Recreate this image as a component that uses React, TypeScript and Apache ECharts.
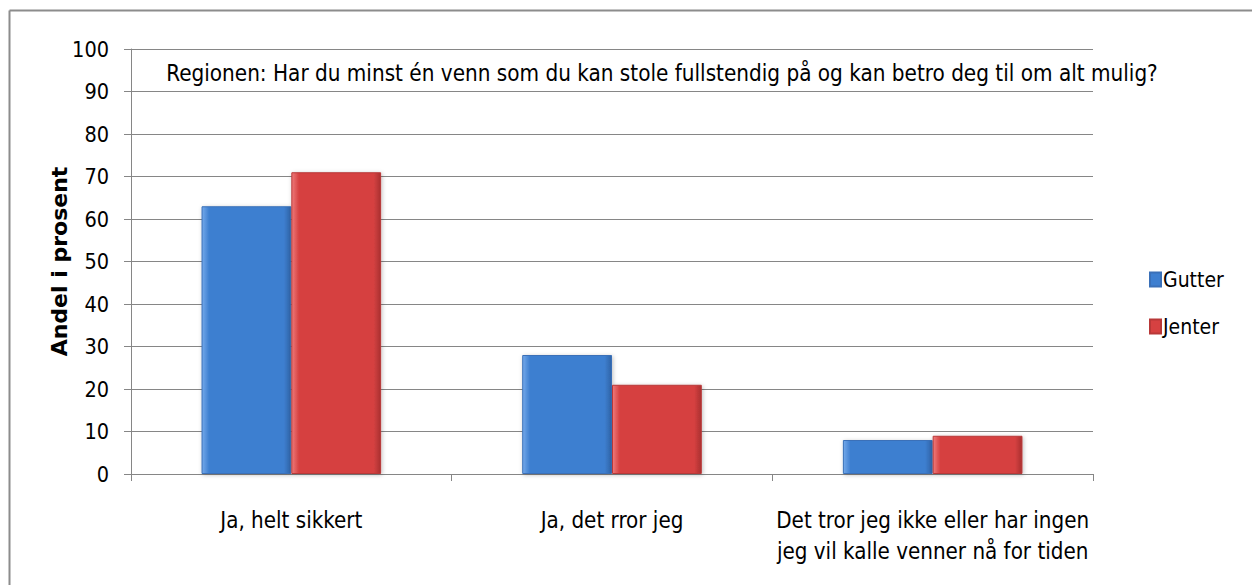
import React, { useEffect, useRef } from "react";
import * as echarts from "echarts";

const categories = [
  "Ja, helt sikkert",
  "Ja, det rror jeg",
  "Det tror jeg ikke eller har ingen\njeg vil kalle venner nå for tiden",
];
const gutter = [63, 28, 8];
const jenter = [71, 21, 9];
const titleText =
  "Regionen: Har du minst én venn som du kan stole fullstendig på og kan betro deg til om alt mulig?";
const FONT = "'Liberation Sans Narrow', 'DejaVu Sans Condensed', sans-serif";

function barColor(light: string, mid: string, dark: string) {
  return new echarts.graphic.LinearGradient(0, 0, 1, 0, [
    { offset: 0, color: light },
    { offset: 0.08, color: mid },
    { offset: 0.92, color: mid },
    { offset: 1, color: dark },
  ]);
}

export default function App() {
  const ref = useRef<HTMLDivElement>(null);
  useEffect(() => {
    if (!ref.current) return;
    const chart = echarts.init(ref.current, null, { renderer: "svg" });
    chart.setOption({
      animation: false,
      backgroundColor: "#ffffff",
      graphic: [
        { type: "line", shape: { x1: 9.5, y1: 10.5, x2: 1252, y2: 10.5 }, style: { stroke: "#8c8c8c", lineWidth: 2 } },
        { type: "line", shape: { x1: 9.5, y1: 10.5, x2: 9.5, y2: 585 }, style: { stroke: "#8c8c8c", lineWidth: 2 } },
        {
          type: "text",
          x: 662,
          y: 73,
          style: {
            text: titleText,
            font: `22.3px ${FONT}`,
            fill: "#000",
            align: "center",
            verticalAlign: "middle",
          },
        },
      ],
      grid: { left: 131, right: 159, top: 49, bottom: 111 },
      legend: {
        orient: "vertical",
        left: 1149,
        top: 269,
        padding: 0,
        itemGap: 26,
        itemWidth: 11,
        itemHeight: 14,
        textStyle: { fontFamily: FONT, fontSize: 21, color: "#000", padding: [0, 0, 0, -3] },
        data: ["Gutter", "Jenter"],
        icon: "rect",
      },
      xAxis: {
        type: "category",
        data: categories,
        axisLine: { lineStyle: { color: "#868686" } },
        axisTick: { show: true, length: 7, lineStyle: { color: "#868686" } },
        axisLabel: {
          interval: 0,
          fontFamily: FONT,
          fontSize: 22.2,
          color: "#000",
          margin: 30,
          lineHeight: 31,
        },
      },
      yAxis: {
        type: "value",
        min: 0,
        max: 100,
        interval: 10,
        name: "Andel i prosent",
        nameLocation: "middle",
        nameGap: 61,
        nameMoveOverlap: false,
        nameTextStyle: {
          fontFamily: "'DejaVu Sans', sans-serif",
          fontWeight: "bold",
          fontSize: 22,
          color: "#000",
        },
        axisLine: { show: true, lineStyle: { color: "#868686" } },
        axisTick: { show: true, length: 7, inside: false, lineStyle: { color: "#868686" } },
        splitLine: { lineStyle: { color: "#868686" } },
        axisLabel: { fontFamily: FONT, fontSize: 21.5, color: "#000", margin: 22 },
      },
      series: [
        {
          name: "Gutter",
          type: "bar",
          data: gutter,
          barGap: "0%",
          barCategoryGap: "44%",
          itemStyle: {
            color: barColor("#74a9ea", "#3e7fd0", "#2f64a8"),
            borderColor: "#3a70b8",
            borderWidth: 1,
            shadowColor: "rgba(0,0,0,0.25)",
            shadowBlur: 4,
            shadowOffsetX: 1,
            shadowOffsetY: 1,
          },
        },
        {
          name: "Jenter",
          type: "bar",
          data: jenter,
          itemStyle: {
            color: barColor("#ee7a7a", "#d64141", "#aa3030"),
            borderColor: "#b83838",
            borderWidth: 1,
            shadowColor: "rgba(0,0,0,0.25)",
            shadowBlur: 4,
            shadowOffsetX: 1,
            shadowOffsetY: 1,
          },
        },
      ],
    });
    return () => chart.dispose();
  }, []);
  return (
    <div
      ref={ref}
      style={{ position: "absolute", left: 0, top: 0, width: 1252, height: 585 }}
    />
  );
}
